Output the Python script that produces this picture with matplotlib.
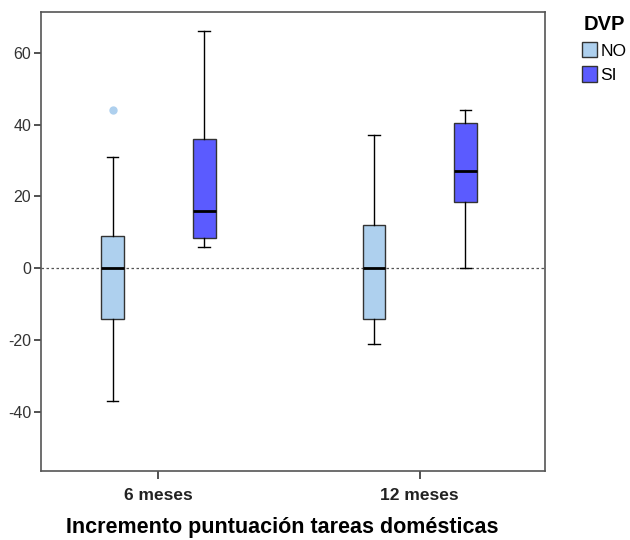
import numpy as np
import matplotlib.pyplot as plt
from matplotlib.patches import Patch

plt.rcParams['font.family'] = ['Liberation Sans', 'DejaVu Sans']

periodos = ['6 meses', '12 meses']
grupos = ['NO', 'SI']
colores = {'NO': '#AED0EE', 'SI': '#5B5BFF'}

# estadísticos: (whislo, q1, mediana, q3, whishi, atípicos)
stats_no = [(-37, -14, 0, 9, 31, [44]), (-21, -14, 0, 12, 37, [])]
stats_si = [(6, 8.5, 16, 36, 66, []), (0, 18.5, 27, 40.5, 44, [])]

fig = plt.figure(figsize=(6.3, 5.4), dpi=100)
ax = fig.add_axes([0.065, 0.128, 0.8, 0.85])

pos_cat = np.array([0.0, 1.0])
desp = 0.175
for g, datos, d in [('NO', stats_no, -desp), ('SI', stats_si, desp)]:
    bxp_stats = []
    for lo, q1, med, q3, hi, fl in datos:
        bxp_stats.append(dict(whislo=lo, q1=q1, med=med, q3=q3, whishi=hi, fliers=fl))
    ax.bxp(bxp_stats, positions=pos_cat + d, widths=0.087, patch_artist=True,
           showfliers=True, manage_ticks=False,
           boxprops=dict(facecolor=colores[g], edgecolor='#333333', linewidth=1),
           medianprops=dict(color='black', linewidth=2),
           whiskerprops=dict(color='black', linewidth=1),
           capprops=dict(color='black', linewidth=1),
           flierprops=dict(marker='o', markerfacecolor=colores[g], markeredgecolor='none',
                           markersize=6))

ax.axhline(0, color='#555555', linestyle=(0, (2, 2)), linewidth=0.9, zorder=0)

ax.set_xlim(-0.45, 1.48)
ax.set_ylim(-56.4, 71.4)
ax.set_yticks([-40, -20, 0, 20, 40, 60])
ax.set_yticklabels(['-40', '-20', '0', '20', '40', '60'])
ax.set_xticks(pos_cat)
ax.set_xticklabels(periodos, fontweight='bold', fontsize=12.5)
ax.tick_params(axis='y', labelsize=11.5, colors='#333333', length=5, width=1.2, pad=2)
ax.tick_params(axis='x', length=6, width=1.2, colors='#333333', pad=6)
for lab in ax.get_xticklabels():
    lab.set_color('#222222')
for s in ax.spines.values():
    s.set_color('#555555')
    s.set_linewidth(1.2)

ax.set_xlabel('Incremento puntuación tareas domésticas', fontweight='bold', fontsize=15.5,
              labelpad=10)
ax.xaxis.set_label_coords(0.478, -0.1)

handles = [Patch(facecolor=colores[g], edgecolor='#333333', label=g) for g in grupos]
leg = fig.legend(handles=handles, title='DVP', loc='upper left', bbox_to_anchor=(0.912, 0.985),
                 frameon=False, fontsize=12.5, handlelength=0.9, handleheight=1.0,
                 handletextpad=0.2, labelspacing=0.45, borderaxespad=0)
leg.get_title().set_fontweight('bold')
leg.get_title().set_fontsize(14.5)

fig.savefig('out.png', dpi=100)
